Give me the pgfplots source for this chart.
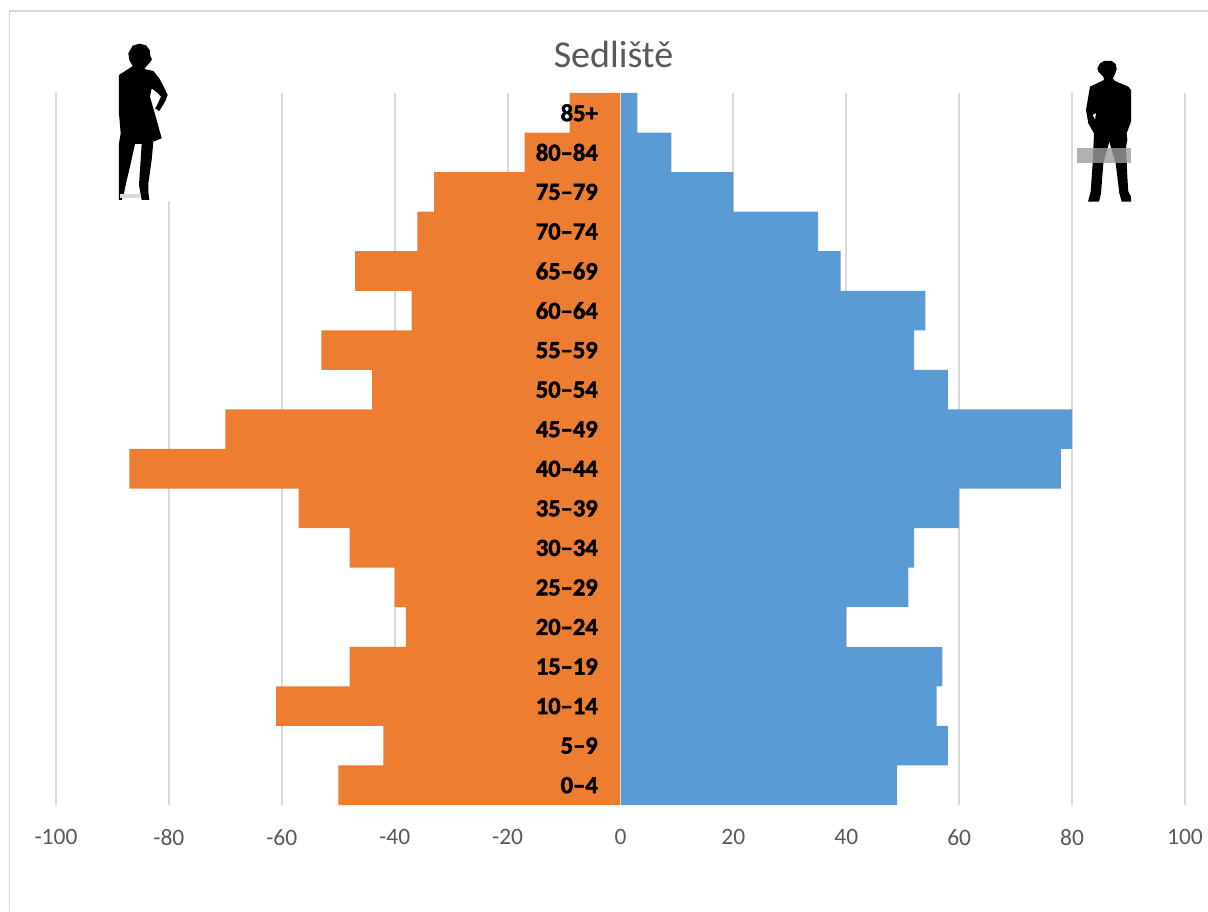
\documentclass[border=0pt]{standalone}
\usepackage{fontspec}
\setmainfont{Carlito}
\usepackage{pgfplots}
\pgfplotsset{compat=1.18}
\definecolor{fem}{HTML}{ED7D31}
\definecolor{mal}{HTML}{5B9BD5}
\definecolor{gridc}{HTML}{D9D9D9}
\definecolor{txt}{HTML}{595959}
\begin{document}
\begin{tikzpicture}[x=1pt,y=1pt]
\useasboundingbox (0,0) rectangle (1208,911);
\begin{axis}[
  at={(56pt,106pt)},anchor=south west,
  scale only axis,width=1129pt,height=712pt,
  xmin=-100,xmax=100,ymin=-0.5,ymax=17.5,
  axis line style={draw=none},
  tick style={draw=none},
  xtick={-100,-80,-60,-40,-20,0,20,40,60,80,100},
  xticklabels={-100,-80,-60,-40,-20,0,20,40,60,80,100},
  ytick=\empty,
  x tick label style={font=\fontsize{23.5}{25}\selectfont,text=txt,yshift=-21pt},
  xmajorgrids,
  major grid style={draw=gridc,line width=1.9pt},
  clip=false,
  title style={at={(0.5,1)},anchor=south,xshift=-7pt,yshift=16pt,font=\fontsize{38}{40}\selectfont,text=txt},
  title={Sedliště},
]
\addplot[xbar,bar shift=0pt,bar width=1,fill=fem,draw=none] coordinates {
(-50,0)(-42,1)(-61,2)(-48,3)(-38,4)(-40,5)(-48,6)(-57,7)(-87,8)(-70,9)
(-44,10)(-53,11)(-37,12)(-47,13)(-36,14)(-33,15)(-17,16)(-9,17)};
\addplot[xbar,bar shift=0pt,bar width=1,fill=mal,draw=none] coordinates {
(49,0)(58,1)(56,2)(57,3)(40,4)(51,5)(52,6)(60,7)(78,8)(80,9)
(58,10)(52,11)(54,12)(39,13)(35,14)(20,15)(9,16)(3,17)};
\addplot[line width=1.9pt,color=gridc] coordinates {(0,-0.5)(0,17.5)};
\addplot[draw=none,mark=none,point meta=explicit symbolic,
  nodes near coords,
  every node near coord/.style={anchor=east,inner sep=0pt,text=black,
    font=\fontsize{24.5}{26}\selectfont\bfseries\addfontfeature{FakeBold=2}}]
 coordinates {
(-4,0)[0–4](-4,1)[5–9](-4,2)[10–14](-4,3)[15–19](-4,4)[20–24](-4,5)[25–29]
(-4,6)[30–34](-4,7)[35–39](-4,8)[40–44](-4,9)[45–49](-4,10)[50–54](-4,11)[55–59]
(-4,12)[60–64](-4,13)[65–69](-4,14)[70–74](-4,15)[75–79](-4,16)[80–84](-4,17)[85+]};
\end{axis}
% chart frame
\draw[gridc,line width=1.6pt] (9.5,0) -- (9.5,900) -- (1208,900);
% silhouettes, in the reference's zoomed pixels
\begin{scope}[shift={(0,911)},x=0.33333pt,y=-0.33333pt]
\fill[white] (357,125) rectangle (513,602);
\fill[black] (398,137)--(418,131)--(438,136)--(449,150)--(451,168)--(456,178)--(448,190)--(438,200)--(433,207)--(460,213)--(478,235)--(492,262)--(503,285)--(495,305)--(478,333)--(465,325)--(470,318)--(483,290)--(472,278)--(455,265)--(450,290)--(460,325)--(470,360)--(485,415)--(460,425)--(455,480)--(445,550)--(445,575)--(448,600)--(425,600)--(417,555)--(422,480)--(425,432)--(405,432)--(390,500)--(378,550)--(372,580)--(365,600)--(357,600)--(357,430)--(362,400)--(357,340)--(357,225)--(385,207)--(398,198)--(388,180)--(385,160)--cycle;
\fill[gridc] (360,582) rectangle (420,595);
\end{scope}
\begin{scope}[shift={(1000,911)},x=0.33333pt,y=-0.33333pt]
\fill[white] (231,183) rectangle (393,605);
\fill[black] (300,190)--(312,183)--(335,183)--(347,192)--(350,207)--(345,222)--(338,236)--(345,243)--(385,260)--(393,270)--(393,365)--(380,400)--(382,420)--(378,440)--(382,530)--(385,575)--(393,590)--(393,605)--(365,605)--(358,580)--(347,490)--(328,425)--(310,490)--(303,580)--(297,605)--(264,605)--(272,575)--(278,490)--(282,400)--(265,370)--(258,330)--(270,260)--(312,240)--(310,230)--(295,215)--(292,205)--cycle;
\fill[white] (278,345)--(288,340)--(285,358)--cycle;
\fill[color={rgb,255:red,158;green,158;blue,158},opacity=0.8] (231,444) rectangle (393,490);
\end{scope}
\end{tikzpicture}
\end{document}
